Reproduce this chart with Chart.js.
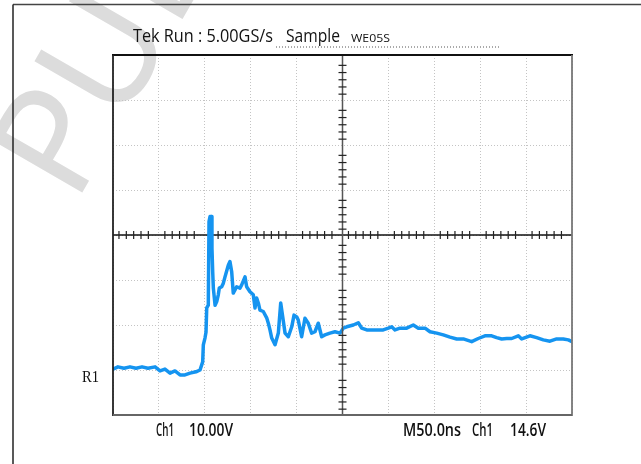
<!DOCTYPE html>
<html>
<head>
<meta charset="utf-8">
<script src="https://cdn.jsdelivr.net/npm/chart.js@4.4.1/dist/chart.umd.min.js"></script>
<style>
  html, body { margin: 0; padding: 0; background: #fff; }
  #wrap { width: 641px; height: 464px; }
</style>
</head>
<body>
<div id="wrap"><canvas id="scope" width="641" height="464"></canvas></div>
<script>
// ==============================
// DATA (read from the screen capture)
// ==============================
// time axis: 50 ns / div, 10 div
const timeNs = [
  0, 5.4, 12.0, 18.5, 25.1, 31.6, 38.1, 45.8, 51.2, 56.6, 62.1, 67.5, 73.0, 78.4, 83.9, 90.4, 94.8,
  97.7, 98.4, 100.2, 101.3, 102.1, 103.8, 104.6, 105.7, 107.5, 107.8, 108.6, 109.3, 111.2, 113.0,
  114.7, 115.8, 118.4, 120.2, 122.0, 125.6, 127.4, 129.3, 131.0, 132.9, 134.7, 138.3, 140.2, 143.8,
  145.6, 149.2, 152.8, 154.7, 156.5, 158.3, 160.1, 163.7, 167.4, 169.2, 171.0, 172.9, 176.5, 180.1,
  182.7, 184.9, 187.4, 191.0, 194.7, 197.2, 200.1, 201.8, 205.5, 209.1, 212.7, 216.4, 220.0, 223.6,
  227.3, 230.9, 236.3, 241.8, 247.3, 250.9, 254.6, 261.8, 267.2, 270.9, 276.4, 283.5, 294.4, 299.9,
  303.6, 307.2, 312.6, 319.9, 327.1, 332.6, 339.9, 345.3, 352.6, 359.8, 367.1, 374.4, 381.6, 390.7,
  397.9, 405.2, 412.5, 417.9, 423.4, 428.9, 434.3, 441.5, 445.2, 454.2, 461.5, 468.7, 476.0, 483.3,
  490.5, 496.0, 500
];
// Ch1 in volts, 10 V / div
const ch1Volts = [
  -29.8, -29.3, -29.6, -29.3, -29.6, -29.3, -29.6, -29.3, -30.2, -29.8, -30.7, -30.2, -31.1, -31.1, -30.7, -30.4, -30.0,
  -28.2, -24.4, -22.9, -21.6, -16.2, -15.6, 3.0, 4.1, 4.1, -2.9, -8.2, -11.8, -15.6, -14.8,
  -13.3, -11.8, -11.5, -10.7, -9.3, -6.7, -5.9, -8.2, -12.9, -12.2, -11.5, -11.8, -11.1, -9.3,
  -11.5, -12.6, -13.3, -16.2, -14.0, -15.1, -16.7, -17.0, -18.4, -19.6, -21.1, -22.9, -24.4, -21.8,
  -15.1, -18.2, -21.8, -22.6, -20.4, -17.8, -18.2, -18.9, -22.6, -18.5, -19.6, -21.8, -21.5, -19.6,
  -22.6, -22.2, -21.8, -21.5, -21.8, -20.7, -20.4, -20.0, -19.5, -20.7, -21.1, -21.1, -21.1, -20.7,
  -20.4, -21.1, -20.7, -20.7, -20.0, -20.7, -20.7, -21.5, -21.8, -22.2, -22.7, -23.1, -23.1, -23.7,
  -23.0, -22.4, -22.4, -22.8, -23.1, -23.0, -23.0, -22.4, -23.1, -22.4, -22.8, -23.3, -23.6, -23.1,
  -23.1, -23.3, -23.7
];
const timeRange = [0, 500];
const voltRange = [-40, 40];
const timePerDiv = 50;
const voltPerDiv = 10;

// readout texts
const headerLeft = "Tek Run : 5.00GS/s";
const headerMode = "Sample";
const headerTag = "WE05S";
const refLabel = "R1";
const refLevel = -31.6;
const footerCh = "Ch1";
const footerScale = "10.00V";
const footerTime = "M50.0ns";
const footerTrigCh = "Ch1";
const footerTrig = "14.6V";
const watermark = "PUBLIC";

// ==============================
// HELPERS
// ==============================
function fitText(ctx, txt, x, yBase, w, font, color) {
  ctx.save();
  ctx.font = font;
  ctx.fillStyle = color;
  ctx.textBaseline = "alphabetic";
  const m = ctx.measureText(txt).width;
  ctx.translate(x, yBase);
  ctx.scale(w / m, 1);
  ctx.fillText(txt, 0, 0);
  ctx.restore();
}

function line(ctx, x1, y1, x2, y2, color, width) {
  ctx.beginPath();
  ctx.strokeStyle = color;
  ctx.lineWidth = width;
  ctx.moveTo(x1, y1);
  ctx.lineTo(x2, y2);
  ctx.stroke();
}

// ==============================
// PLUGIN: watermark, frame, crosshair, readouts
// ==============================
const readFont = "500 18px 'Open Sans'";
const footFont = "600 18px 'Open Sans'";

const scopeDecor = {
  id: "scopeDecor",
  beforeDraw(chart) {
    const ctx = chart.ctx;
    ctx.save();
    ctx.fillStyle = "#fff";
    ctx.fillRect(0, 0, chart.width, chart.height);
    // watermark
    ctx.translate(75, 205);
    ctx.rotate(-60 * Math.PI / 180);
    ctx.font = "150px 'Noto Sans'";
    ctx.fillStyle = "#dcdcdc";
    ctx.fillText(watermark, 0, 0);
    ctx.restore();
    // page border
    ctx.save();
    line(ctx, 13, 4.5, 641, 4.5, "#444", 1.5);
    line(ctx, 13, 4.5, 13, 464, "#222", 1.5);
    ctx.restore();
  },
  beforeDatasetsDraw(chart) {
    const ctx = chart.ctx;
    const xs = chart.scales.x, ys = chart.scales.y;
    const y0 = ys.getPixelForValue(0);
    ctx.save();
    line(ctx, xs.left, y0, xs.right, y0, "#111", 1.5);
    for (let d = timeRange[0]; d < timeRange[1]; d += timePerDiv) {
      for (let k = 0; k < 5; k++) {
        const px = xs.getPixelForValue(d + timePerDiv * (0.13 + 0.16 * k));
        line(ctx, px, y0 - 4, px, y0 + 4, "#222", 1.2);
      }
    }
    ctx.restore();
  },
  afterDatasetsDraw(chart) {
    const ctx = chart.ctx;
    const xs = chart.scales.x, ys = chart.scales.y;
    const xc = xs.getPixelForValue((timeRange[0] + timeRange[1]) / 2);
    ctx.save();
    line(ctx, xc, ys.top, xc, ys.bottom, "#555", 1.5);
    for (let d = voltRange[0]; d < voltRange[1]; d += voltPerDiv) {
      for (let k = 0; k < 5; k++) {
        const py = ys.getPixelForValue(d + voltPerDiv * (0.13 + 0.16 * k));
        line(ctx, xc - 4, py, xc + 4, py, "#222", 1.2);
      }
    }
    // frame
    line(ctx, xs.left - 1, ys.top, xs.right + 1, ys.top, "#111", 1.8);
    line(ctx, xs.left, ys.top, xs.left, ys.bottom + 1, "#222", 1.8);
    line(ctx, xs.right, ys.top, xs.right, ys.bottom + 1, "#777", 1.8);
    line(ctx, xs.left, ys.bottom, xs.right, ys.bottom, "#666", 1.8);

    // header readout
    fitText(ctx, headerLeft, 133, 42, 140, readFont, "#111");
    fitText(ctx, headerMode, 286, 42, 54, readFont, "#111");
    fitText(ctx, headerTag, 351, 42, 39, "500 10px 'Open Sans'", "#111");
    ctx.setLineDash([1, 2]);
    line(ctx, 276, 47, 501, 47, "#555", 1);
    ctx.setLineDash([]);

    // reference marker
    fitText(ctx, refLabel, 82, ys.getPixelForValue(refLevel) + 5, 17, "16px 'Liberation Serif'", "#111");

    // footer readout
    fitText(ctx, footerCh, 156, 436, 18, footFont, "#111");
    fitText(ctx, footerScale, 189, 436, 44, footFont, "#111");
    fitText(ctx, footerTime, 403, 436, 58, footFont, "#111");
    fitText(ctx, footerTrigCh, 472, 436, 21, footFont, "#111");
    fitText(ctx, footerTrig, 510, 436, 36, footFont, "#111");
    ctx.restore();
  }
};

// ==============================
// CHART
// ==============================
const points = timeNs.map((t, i) => ({ x: t, y: ch1Volts[i] }));

new Chart(document.getElementById("scope"), {
  type: "line",
  data: {
    datasets: [{
      label: "Ch1",
      data: points,
      borderColor: "#1594f0",
      borderWidth: 3.5,
      pointRadius: 0,
      tension: 0,
      borderJoinStyle: "round",
      borderCapStyle: "round",
      fill: false
    }]
  },
  options: {
    responsive: false,
    devicePixelRatio: 1,
    animation: false,
    layout: { padding: { left: 113, right: 69, top: 55, bottom: 49 } },
    plugins: { legend: { display: false }, tooltip: { enabled: false } },
    scales: {
      x: {
        type: "linear",
        min: timeRange[0], max: timeRange[1],
        ticks: { display: false, stepSize: timePerDiv },
        grid: { color: "#c4c4c4", lineWidth: 1, drawTicks: false },
        border: { display: false, dash: [1, 2] }
      },
      y: {
        type: "linear",
        min: voltRange[0], max: voltRange[1],
        ticks: { display: false, stepSize: voltPerDiv },
        grid: { color: "#c4c4c4", lineWidth: 1, drawTicks: false },
        border: { display: false, dash: [1, 2] }
      }
    }
  },
  plugins: [scopeDecor]
});
</script>
</body>
</html>
